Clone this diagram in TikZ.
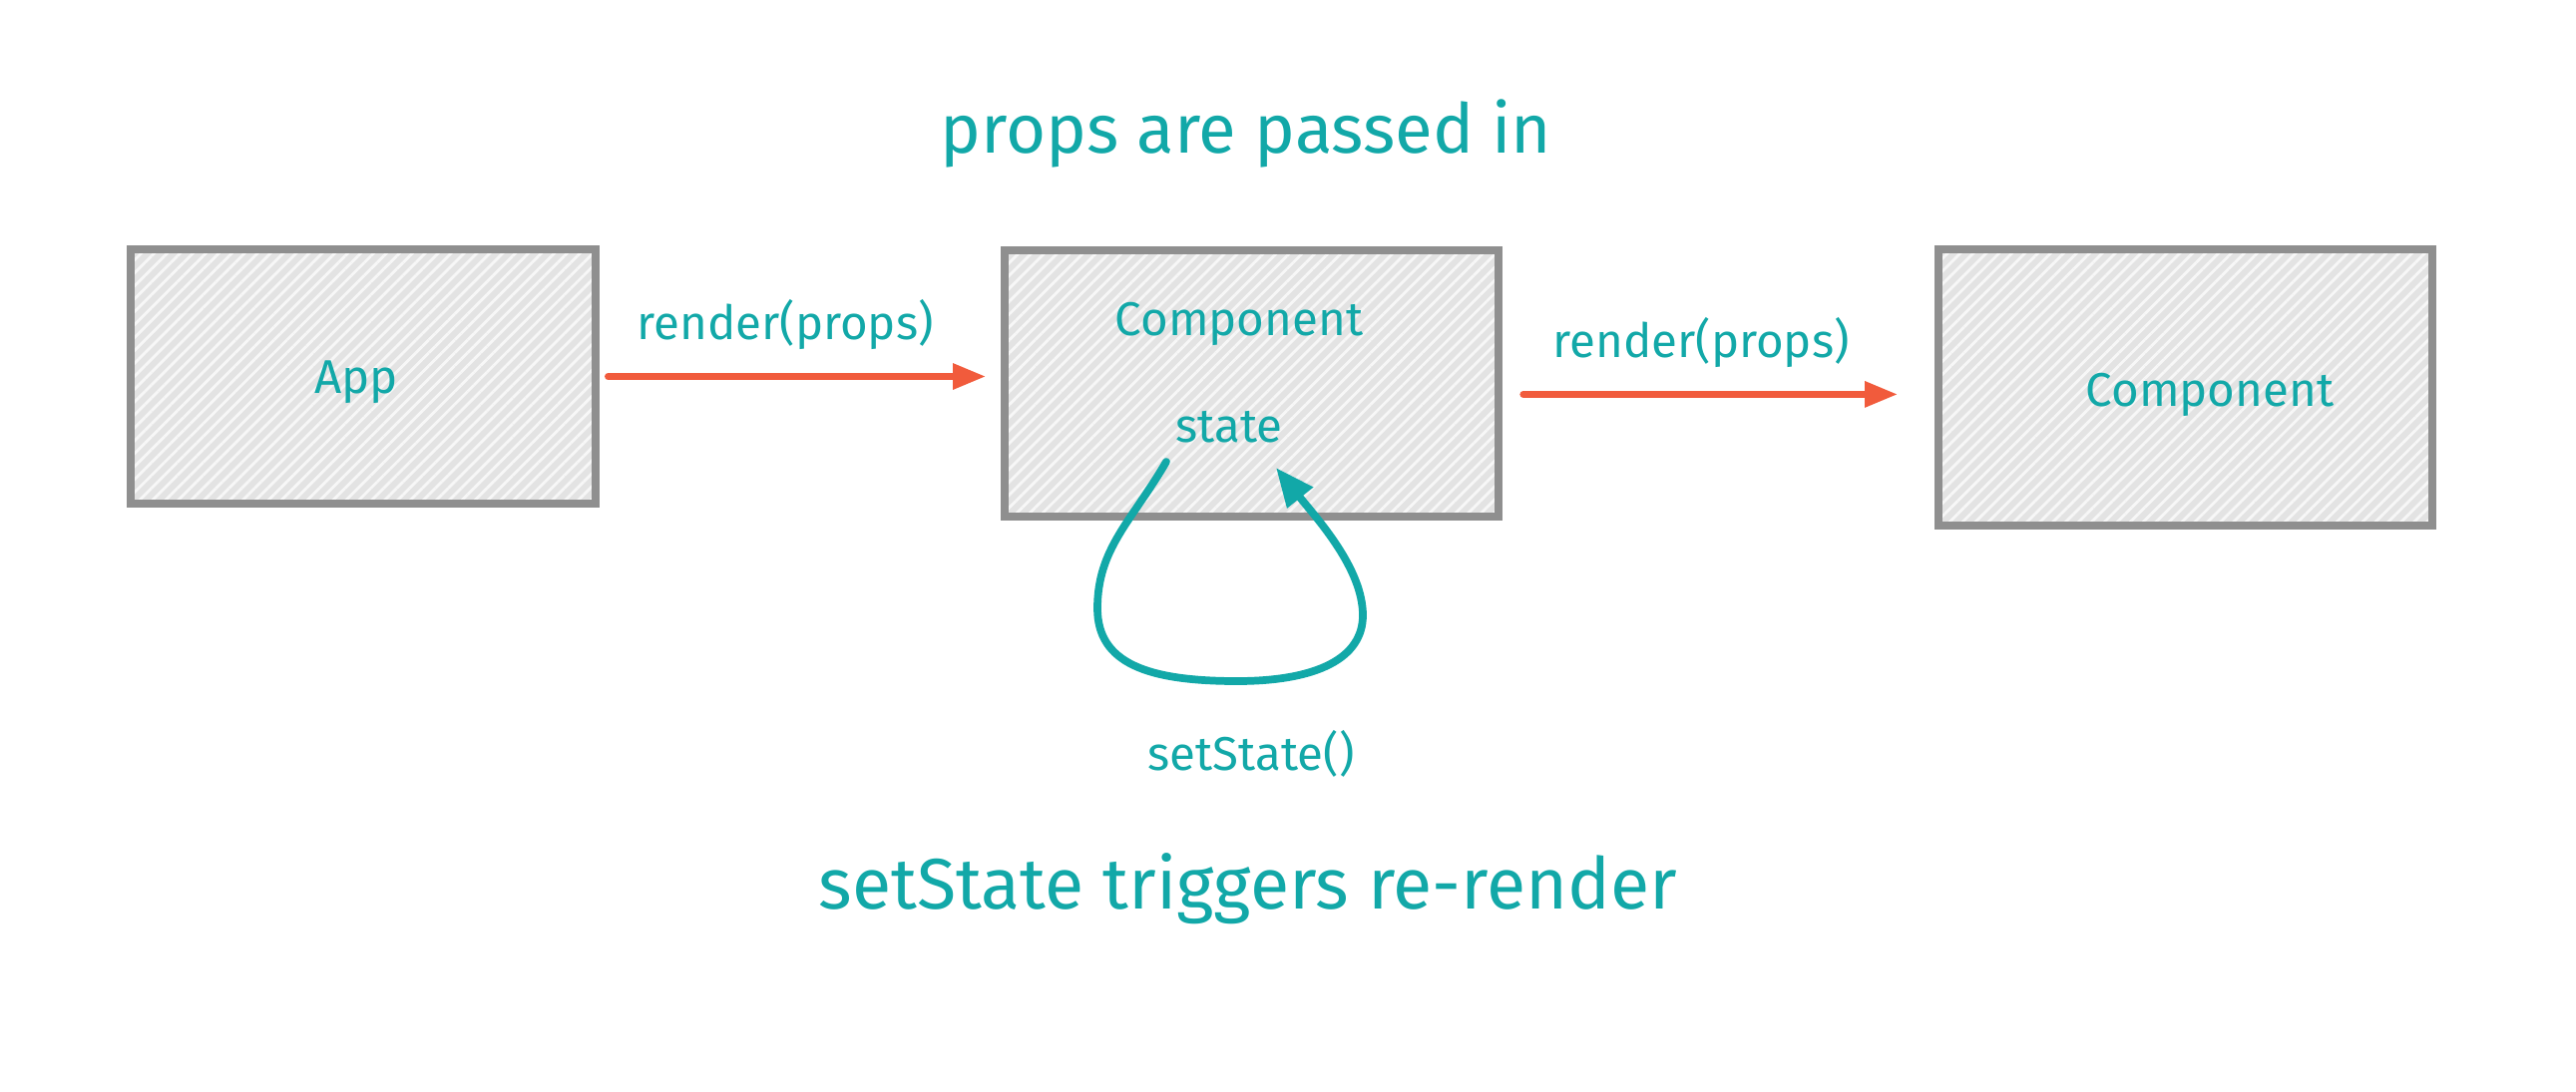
\documentclass[tikz,border=0pt]{standalone}
\usepackage{fontspec}
\setmainfont{Fira Sans}
\usetikzlibrary{arrows.meta,patterns.meta,calc}
\definecolor{inkteal}{HTML}{12A8A8}
\definecolor{arroworange}{HTML}{F15B3C}
\definecolor{boxedge}{HTML}{8F8F8F}
\definecolor{boxfill}{HTML}{E3E3E3}

\begin{document}
\begin{tikzpicture}[x=0.01cm,y=-0.01cm,
  box/.style={draw=boxedge,line width=2.1pt,preaction={fill=boxfill},
    pattern={Lines[angle=45,distance=2.6pt,line width=0.8pt]},pattern color=white!70!boxfill,inner sep=0pt},
  word/.style={text=inkteal,font=\fontsize{13.5}{16}\selectfont,anchor=base},
  headline/.style={text=inkteal,font=\fontsize{20}{24}\selectfont,anchor=base},
  propsarrow/.style={draw=arroworange,line width=2pt,line cap=round,
    -{Triangle[length=9.4pt,width=7pt]}},
  statearrow/.style={draw=inkteal,line width=2.2pt,line cap=round,
    -{Triangle[length=11pt,width=9pt]}}]
\useasboundingbox (0,0) rectangle (2582,1094);

\node[headline,font=\fontsize{19.6}{24}\selectfont] (title) at (1249,153) {props are passed in};
\node[headline,font=\fontsize{20.4}{24}\selectfont] (footer) at (1251,911) {setState triggers re-render};

\node[box,minimum width=4.66cm,minimum height=2.55cm] (app) at (364,377.5) {};
\node[box,minimum width=4.95cm,minimum height=2.67cm] (comp) at (1254.5,384.5) {};
\node[box,minimum width=4.95cm,minimum height=2.77cm] (comptwo) at (2190.5,388.5) {};

\node[word] (applabel) at (357,394) {App};
\node[word] (complabel) at (1242,337) {Component};
\node[word] (state) at (1232,443) {state};
\node[word] (comptwolabel) at (2215,407) {Component};
\node[word] (setstate) at (1254,772) {setState()};
\node[word] (renderone) at (787,340) {render(props)};
\node[word] (rendertwo) at (1705,358) {render(props)};

\draw[propsarrow,shorten <=0.11cm,shorten >=0.15cm] (app.east) -- (app.east -| comp.west);
\draw[propsarrow,shorten <=0.21cm,shorten >=0.37cm] (comp.east |- comptwolabel.center) -- (comptwolabel.center -| comptwo.west);

\coordinate (loopout) at ($(state.base)+(-63,20)$);
\coordinate (loopin) at ($(state.base)+(47,26)$);
\draw[statearrow] (loopout) .. controls (1134,523) and (1100,550) .. (1100,610)
  .. controls (1100,665) and (1150,683) .. (1240,683)
  .. controls (1320,683) and (1366,660) .. (1366,617)
  .. controls (1366,570) and (1320,520) .. (loopin);
\end{tikzpicture}
\end{document}
